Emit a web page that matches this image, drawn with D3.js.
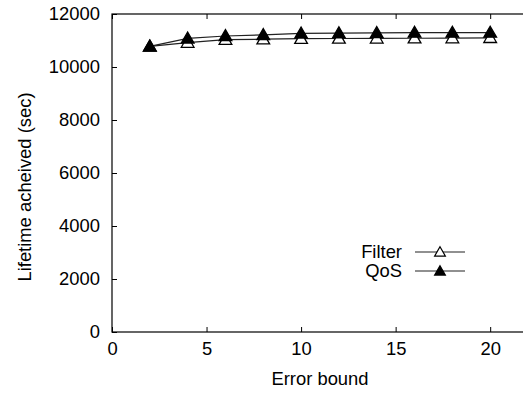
<!DOCTYPE html>
<html>
<head>
<meta charset="utf-8">
<script src="https://cdn.jsdelivr.net/npm/d3@7"></script>
<style>
  body { margin: 0; background: #fff; overflow: hidden; }
  svg { display: block; font-family: "Liberation Sans", Arial, sans-serif; }
</style>
</head>
<body>
<div id="chart"></div>
<script>
// data
let errorBounds = [2, 4, 6, 8, 10, 12, 14, 16, 18, 20];
let filterLife = [10780, 10920, 11030, 11050, 11070, 11075, 11080, 11085, 11090, 11100];
let qosLife = [10780, 11080, 11170, 11210, 11270, 11280, 11290, 11300, 11300, 11300];
let xTicks = [0, 5, 10, 15, 20];
let yTicks = [0, 2000, 4000, 6000, 8000, 10000, 12000];

let W = 523, H = 393;
let margin = {top: 14, right: -5, bottom: 61, left: 112},
    width = W - margin.left - margin.right,
    height = H - margin.top - margin.bottom;

let svg = d3.select("#chart").append("svg")
    .attr("width", W)
    .attr("height", H)
    .style("overflow", "hidden");

let g = svg.append("g")
    .attr("transform", "translate(" + margin.left + "," + margin.top + ")");

let x = d3.scaleLinear().domain([0, 22]).range([0, width]);
let y = d3.scaleLinear().domain([0, 12000]).range([height, 0]);

// axes, gnuplot style: ticks pointing inwards, mirrored
let tickLen = 5;
let fontSize = 18.4;
g.append("g")
    .attr("transform", "translate(0," + height + ")")
    .call(d3.axisBottom(x).tickValues(xTicks).tickSizeInner(-tickLen).tickSizeOuter(0).tickPadding(10))
    .call(a => a.select(".domain").remove());
g.append("g")
    .call(d3.axisTop(x).tickValues(xTicks).tickSizeInner(-tickLen).tickSizeOuter(0).tickFormat(""))
    .call(a => a.select(".domain").remove());
g.append("g")
    .call(d3.axisLeft(y).tickValues(yTicks).tickFormat(d3.format("d")).tickSizeInner(-tickLen).tickSizeOuter(0).tickPadding(12))
    .call(a => a.select(".domain").remove());

g.selectAll(".tick text")
    .attr("font-size", fontSize)
    .attr("font-family", "Liberation Sans, Arial, sans-serif")
    .attr("fill", "#000");
g.selectAll(".tick line").attr("stroke", "#000");

g.append("rect")
    .attr("width", x(22))
    .attr("height", height)
    .attr("fill", "none")
    .attr("stroke", "#000")
    .attr("stroke-width", 1.2);

// axis titles
svg.append("text")
    .attr("x", 320)
    .attr("y", 385)
    .attr("text-anchor", "middle")
    .attr("font-size", fontSize)
    .text("Error bound");
svg.append("text")
    .attr("transform", "translate(31,187) rotate(-90)")
    .attr("text-anchor", "middle")
    .attr("font-size", fontSize)
    .text("Lifetime acheived (sec)");

// series
let line = d3.line()
    .x((d, i) => x(errorBounds[i]))
    .y(d => y(d));

let tri = d3.symbol().type(d3.symbolTriangle).size(70);

let series = [
    {name: "Filter", values: filterLife, fill: "#fff"},
    {name: "QoS", values: qosLife, fill: "#000"}
];

series.forEach(s => {
    g.append("path")
        .datum(s.values)
        .attr("d", line)
        .attr("fill", "none")
        .attr("stroke", "#222")
        .attr("stroke-width", 1.2);
});
series.forEach(s => {
    g.selectAll(".pt-" + s.name)
        .data(s.values)
        .enter()
        .append("path")
        .attr("d", tri)
        .attr("transform", (d, i) => "translate(" + x(errorBounds[i]) + "," + (y(d) + 1) + ")")
        .attr("fill", s.fill)
        .attr("stroke", "#000")
        .attr("stroke-width", 1.3);
});

// legend
let legend = svg.append("g");
series.forEach((s, i) => {
    let ly = 252 + i * 19;
    legend.append("text")
        .attr("x", 402)
        .attr("y", ly)
        .attr("dy", "0.35em")
        .attr("text-anchor", "end")
        .attr("font-size", fontSize)
        .text(s.name);
    legend.append("line")
        .attr("x1", 415).attr("x2", 465)
        .attr("y1", ly).attr("y2", ly)
        .attr("stroke", "#222")
        .attr("stroke-width", 1.2);
    legend.append("path")
        .attr("d", d3.symbol().type(d3.symbolTriangle).size(50))
        .attr("transform", "translate(440," + (ly + 1) + ")")
        .attr("fill", s.fill)
        .attr("stroke", "#000")
        .attr("stroke-width", 1.2);
});
</script>
</body>
</html>
